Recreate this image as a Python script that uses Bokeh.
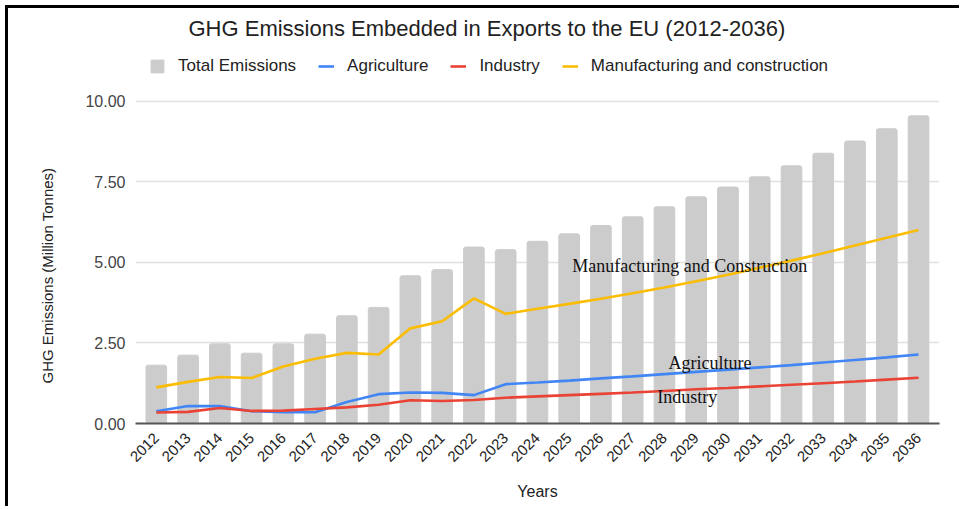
from math import pi
from bokeh.plotting import figure
from bokeh.models import (Range1d, FixedTicker, NumeralTickFormatter, Legend,
                          LegendItem, Label, Title, ColumnDataSource, CustomJSTickFormatter)
from bokeh.embed import file_html
from bokeh.resources import INLINE

# ---------------- data ----------------
years = [2012, 2013, 2014, 2015, 2016, 2017, 2018, 2019, 2020, 2021, 2022, 2023,
         2024, 2025, 2026, 2027, 2028, 2029, 2030, 2031, 2032, 2033, 2034, 2035, 2036]
total_emissions = [1.81, 2.12, 2.47, 2.18, 2.47, 2.77, 3.34, 3.60, 4.58, 4.77, 5.47, 5.39,
                   5.65, 5.88, 6.14, 6.41, 6.72, 7.03, 7.33, 7.65, 7.99, 8.38, 8.76, 9.14, 9.54]
agriculture = [0.38, 0.54, 0.54, 0.38, 0.35, 0.35, 0.67, 0.91, 0.96, 0.95, 0.88, 1.22,
               1.27, 1.33, 1.40, 1.46, 1.53, 1.60, 1.67, 1.74, 1.81, 1.89, 1.97, 2.05, 2.14]
industry = [0.34, 0.36, 0.48, 0.39, 0.40, 0.45, 0.50, 0.58, 0.72, 0.70, 0.73, 0.80,
            0.84, 0.88, 0.92, 0.96, 1.01, 1.06, 1.10, 1.15, 1.20, 1.25, 1.30, 1.36, 1.42]
manufacturing = [1.12, 1.29, 1.44, 1.41, 1.77, 2.01, 2.19, 2.14, 2.95, 3.17, 3.88, 3.40,
                 3.56, 3.71, 3.87, 4.04, 4.22, 4.41, 4.61, 4.83, 5.05, 5.28, 5.52, 5.76, 6.00]
y_ticks = [0, 2.5, 5, 7.5, 10]

TITLE = "GHG Emissions Embedded in Exports to the EU (2012-2036)"
Y_LABEL = "GHG Emissions (Million Tonnes)"
SANS = "Liberation Sans"
SERIF = "Liberation Serif"

src = ColumnDataSource(dict(year=years, total=total_emissions, agri=agriculture,
                            ind=industry, manu=manufacturing))

# the frame reaches up to hold the legend; gridlines/ticks stop at 10
p = figure(output_backend="svg", toolbar_location=None,
           width=954, height=501,
           min_border_left=127, min_border_right=23, min_border_top=36, min_border_bottom=86,
           x_range=Range1d(2011.345, 2036.66), y_range=Range1d(0, 11.752),
           background_fill_color="white", border_fill_color="white")
p.outline_line_color = None
p.styles = {"margin-left": "5px", "margin-top": "5px",
            "border-left": "3px solid black", "border-top": "3px solid black"}

# title
p.title.text = TITLE
p.title.align = "left"
p.title.offset = 53
p.title.standoff = 8
p.title.text_font = SANS
p.title.text_font_size = "22px"
p.title.text_font_style = "normal"
p.title.text_color = "#222222"

# marks
bars = p.vbar(x="year", top="total", width=0.65, source=src, color="#cccccc",
              border_radius=2)
l_agri = p.line(x="year", y="agri", source=src, line_color="#4285F4", line_width=2.6)
l_ind = p.line(x="year", y="ind", source=src, line_color="#EA4335", line_width=2.6)
l_manu = p.line(x="year", y="manu", source=src, line_color="#FBBC04", line_width=2.6)

# grid
p.xgrid.visible = False
p.ygrid.grid_line_color = "#e0e0e0"
p.ygrid.grid_line_width = 1.5
p.ygrid.ticker = FixedTicker(ticks=y_ticks)

# y axis
ya = p.yaxis[0]
ya.ticker = FixedTicker(ticks=y_ticks)
ya.formatter = NumeralTickFormatter(format="0.00")
ya.axis_line_color = None
ya.major_tick_line_color = None
ya.minor_tick_line_color = None
ya.major_label_text_font = SANS
ya.major_label_text_font_size = "16px"
ya.major_label_text_color = "#444444"
ya.major_label_standoff = 4

# y axis title (placed as a side title so it can sit where the original has it)
p.add_layout(Title(text=Y_LABEL, align="left", offset=40, standoff=54,
                   text_font=SANS, text_font_size="15px", text_font_style="normal",
                   text_color="#222222"), "left")

# x axis
xa = p.xaxis[0]
xa.ticker = FixedTicker(ticks=years)
xa.formatter = CustomJSTickFormatter(code="return String(tick);")
xa.major_label_orientation = pi / 4
xa.axis_line_color = "#555555"
xa.axis_line_width = 2
xa.major_tick_line_color = None
xa.minor_tick_line_color = None
xa.major_label_text_font = SANS
xa.major_label_text_font_size = "15px"
xa.major_label_text_color = "#222222"
xa.major_label_standoff = 6
xa.axis_label = "Years"
xa.axis_label_text_font = SANS
xa.axis_label_text_font_size = "16px"
xa.axis_label_text_font_style = "normal"
xa.axis_label_text_color = "#222222"
xa.axis_label_standoff = 14

# legend (top of the frame, above the 10.00 gridline)
legend = Legend(items=[
    LegendItem(label="Total Emissions", renderers=[bars]),
    LegendItem(label="Agriculture", renderers=[l_agri]),
    LegendItem(label="Industry", renderers=[l_ind]),
    LegendItem(label="Manufacturing and construction", renderers=[l_manu]),
], orientation="horizontal", location=(14, 347))
legend.padding = 0
legend.margin = 0
legend.spacing = 22
legend.label_standoff = 13
legend.glyph_width = 16
legend.glyph_height = 16
legend.label_height = 20
legend.label_text_font = SANS
legend.label_text_font_size = "17px"
legend.label_text_color = "#222222"
legend.border_line_color = None
legend.background_fill_alpha = 0
p.add_layout(legend)

# in-chart labels
for txt, x, y in [("Manufacturing and Construction", 2025.1, 4.87),
                  ("Agriculture", 2028.13, 1.88),
                  ("Industry", 2027.77, 0.83)]:
    p.add_layout(Label(x=x, y=y, text=txt, text_font=SERIF, text_font_size="18px",
                       text_color="#111111", text_baseline="alphabetic"))

open("out.html", "w").write(file_html(p, INLINE))
